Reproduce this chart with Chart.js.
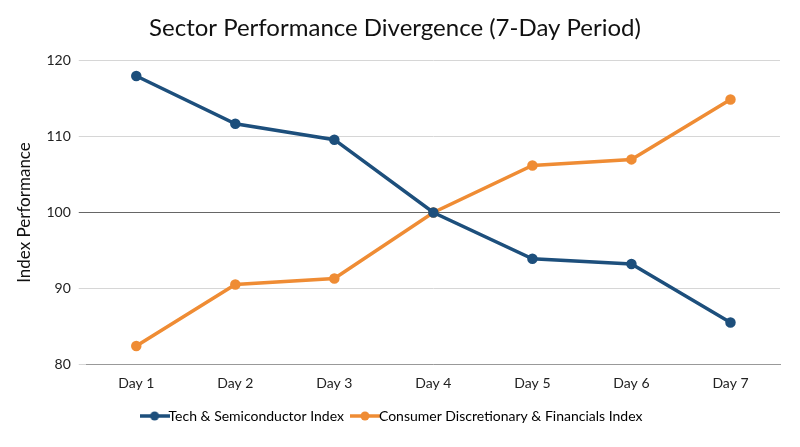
<!DOCTYPE html>
<html><head><meta charset="utf-8">
<script src="https://cdn.jsdelivr.net/npm/chart.js@4"></script>
<style>html,body{margin:0;padding:0;background:#fff}#w{width:800px;height:447px}</style>
</head><body><div id="w"><canvas id="c"></canvas></div>
<script>
const categories=["Day 1","Day 2","Day 3","Day 4","Day 5","Day 6","Day 7"];
const techValues=[118.0,111.7,109.6,100.0,93.9,93.2,85.5];
const consumerValues=[82.4,90.5,91.3,100.0,106.2,107.0,114.9];
const yTicks=[80,90,100,110,120];
Chart.defaults.font.family="Lato, 'Open Sans', sans-serif";
Chart.defaults.color="#222";
function marker(col){const c=document.createElement('canvas');c.width=30;c.height=10;const x=c.getContext('2d');
x.strokeStyle=col;x.lineWidth=3.5;x.beginPath();x.moveTo(0,5);x.lineTo(30,5);x.stroke();
x.fillStyle=col;x.beginPath();x.arc(15,5,4.5,0,Math.PI*2);x.fill();return c;}
new Chart(document.getElementById('c'),{
type:'line',
data:{labels:categories,datasets:[
{label:"Tech & Semiconductor Index",data:techValues,borderColor:"#1d4f7c",backgroundColor:"#1d4f7c",borderWidth:3.5,pointRadius:3.5,pointHoverRadius:3.5,tension:0},
{label:"Consumer Discretionary & Financials Index",data:consumerValues,borderColor:"#ef8c34",backgroundColor:"#ef8c34",borderWidth:3.5,pointRadius:3.5,pointHoverRadius:3.5,tension:0}
]},
options:{responsive:true,maintainAspectRatio:false,animation:false,
layout:{padding:{left:10,right:20,top:8,bottom:14}},
plugins:{title:{display:true,text:"Sector Performance Divergence (7-Day Period)",font:{size:24,weight:'normal'},color:"#111",padding:{top:6,bottom:18}},
legend:{position:'bottom',labels:{usePointStyle:true,font:{size:14},color:"#222",padding:14,
generateLabels(ch){return ch.data.datasets.map((d,i)=>({text:d.label,pointStyle:marker(d.borderColor),strokeStyle:d.borderColor,fillStyle:d.borderColor,datasetIndex:i,hidden:false}));}}},
tooltip:{enabled:false}},
scales:{
x:{offset:true,grid:{display:false},border:{color:"#999"},ticks:{font:{size:14},color:"#222"}},
y:{min:80,max:120,afterBuildTicks(s){s.ticks=yTicks.map(v=>({value:v}));},
title:{display:true,text:"Index Performance",font:{size:17},color:"#111"},
border:{display:false},
grid:{color:c=>c.tick&&c.tick.value===100?"#666":"#d6d6d6",lineWidth:1},
ticks:{font:{size:14},color:"#222",padding:8}}
}}
});
</script></body></html>
